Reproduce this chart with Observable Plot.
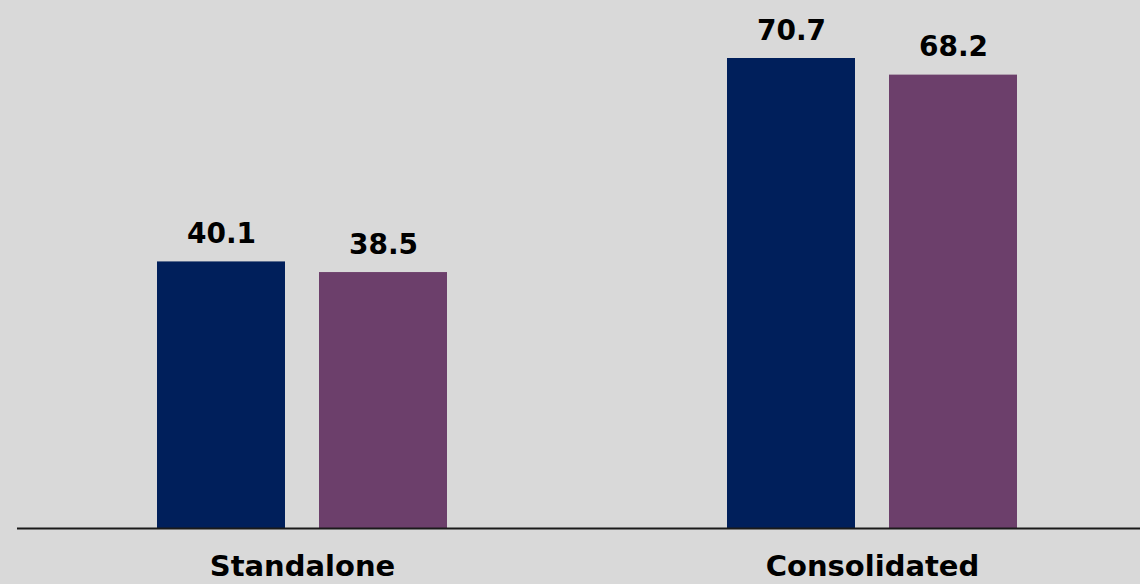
<!DOCTYPE html>
<html>
<head>
<meta charset="utf-8">
<script src="https://cdn.jsdelivr.net/npm/d3@7"></script>
<script src="https://cdn.jsdelivr.net/npm/@observablehq/plot@0.6"></script>
<style>
  html, body { margin: 0; padding: 0; background: #d9d9d9; overflow: hidden; }
  #chart svg { display: block; }
</style>
</head>
<body>
<div id="chart"></div>
<script>
const categories = ["Standalone", "Consolidated"];
const seriesNames = ["Series 1", "Series 2"];
const series1 = [40.1, 70.7];
const series2 = [38.5, 68.2];
const seriesColors = ["#001f5b", "#6c3f6b"];

const data = [];
categories.forEach((c, i) => {
  data.push({category: c, series: seriesNames[0], value: series1[i]});
  data.push({category: c, series: seriesNames[1], value: series2[i]});
});

const font = "'DejaVu Sans', sans-serif";

const chart = Plot.plot({
  width: 1140,
  height: 584,
  marginLeft: 17,
  marginRight: -17,
  marginTop: 58,
  marginBottom: 56,
  style: {background: "#d9d9d9", fontFamily: font, overflow: "visible"},
  fx: {domain: categories, padding: 0, label: null},
  x: {domain: seriesNames, paddingInner: 0.21, paddingOuter: 0.864, axis: null},
  y: {domain: [0, 70.7], axis: null},
  color: {domain: seriesNames, range: seriesColors},
  marks: [
    Plot.barY(data, {fx: "category", x: "series", y: "value", fill: "series"}),
    Plot.ruleY([0], {stroke: "#1a1a1a", strokeWidth: 2}),
    Plot.text(data, {
      fx: "category", x: "series", y: "value", text: d => d.value.toFixed(1),
      lineAnchor: "bottom", dy: -19, fontSize: 28, fontWeight: "bold", fill: "#000"
    }),
    Plot.axisFx({anchor: "bottom", tickSize: 0, tickPadding: 27, fontSize: 29, fontWeight: "bold", fill: "#000", label: null})
  ]
});

document.getElementById("chart").appendChild(chart);
</script>
</body>
</html>
